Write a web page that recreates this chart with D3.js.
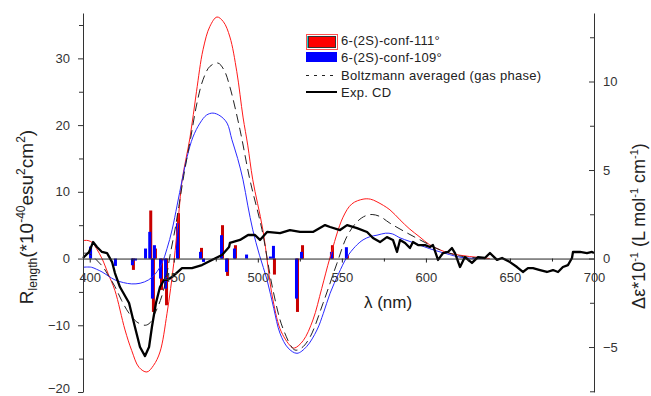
<!DOCTYPE html>
<html>
<head>
<meta charset="utf-8">
<script src="https://cdn.jsdelivr.net/npm/d3@7"></script>
<style>
  body { margin: 0; background: #fff; }
  svg { display: block; font-family: "Liberation Sans", Arial, sans-serif; }
</style>
</head>
<body>
<div id="chart"></div>
<script>
// calculated spectra (left axis, R length)
const redNm = [396, 399, 401.5, 404, 407.3, 411, 415, 421, 425, 429.3, 434, 438, 441.8, 446, 450, 453, 455, 459.7, 463.5, 467.4, 471.5, 475.7, 479.5, 483.4, 487.5, 491.2, 494, 497, 503, 509, 514, 520.3, 522, 527, 532.8, 538, 543, 550.7, 556, 562.6, 567, 570.9, 578.6, 584.6, 590, 596.5, 602, 608.4, 614, 620.3, 626, 632.2, 638];
const redR = [2.7, 2.7, 2.4, 1.5, 0.0, -2.3, -4.8, -10.7, -13.8, -16.3, -17.0, -16.0, -14.0, -8.2, -0.7, 6.8, 11.8, 18.2, 25.0, 31.3, 34.8, 36.2, 35.5, 33.2, 28.0, 21.2, 17.0, 11.8, 4.3, -6.2, -11.0, -13.3, -13.4, -12.3, -9.2, -4.5, 0.2, 6.2, 8.2, 8.9, 8.9, 8.5, 7.3, 5.8, 4.5, 3.2, 2.1, 1.3, 0.8, 0.5, 0.3, 0.15, 0.0];

const blueNm = [396, 401, 404, 407.3, 411, 415, 420, 425, 430, 435, 439, 443, 446, 449, 452, 455, 458, 461.4, 465.6, 469.5, 473.3, 477.5, 481.7, 484.6, 488, 491.2, 494, 497, 501, 505.5, 509.5, 513.2, 518, 523.3, 529, 535.2, 539, 543, 548, 553, 558, 562.6, 567, 570.9, 576, 580, 584.6, 590, 596.5, 602, 608.4, 614, 620.3, 627, 634];
const blueR = [-1.3, -1.3, -1.6, -2.0, -2.6, -3.2, -3.6, -3.8, -3.7, -3.2, -2.3, -0.7, 1.5, 4.3, 8.0, 11.8, 15.3, 18.2, 20.3, 21.5, 21.8, 21.4, 20.3, 17.8, 15.0, 11.8, 8.0, 4.3, 0.5, -3.2, -7.5, -11.2, -13.4, -14.2, -13.2, -10.7, -8.2, -5.2, -2.3, 0.2, 1.8, 2.8, 3.3, 3.5, 3.8, 3.7, 3.1, 2.6, 2.0, 1.5, 1.0, 0.6, 0.2, 0.05, 0];

const boltzNm = [396, 400, 404, 408, 411, 415, 419, 423.4, 428, 433, 436, 438.8, 442, 444.8, 447.8, 450.7, 453, 456, 460, 463.8, 467.4, 471.5, 476.3, 480, 483.4, 489.4, 495.3, 502.5, 509, 515, 522, 526, 531, 538.8, 547.1, 553, 559, 564, 568, 572.7, 578.6, 587.6, 596.5, 608.4, 620, 630, 636];
const boltzR = [0.8, 0.7, -0.2, -1.3, -2.5, -4.2, -6.3, -8.2, -9.5, -10.0, -9.6, -8.2, -6.3, -3.8, 0.5, 4.3, 7.8, 12.5, 18.0, 23.3, 26.8, 28.8, 29.3, 28.2, 25.7, 19.3, 11.8, 4.3, -4.7, -10.5, -13.7, -13.4, -11.8, -6.7, -0.7, 3.3, 5.5, 6.4, 6.6, 6.3, 5.3, 4.0, 2.8, 1.3, 0.4, 0.1, 0];

// rotatory strength sticks (left axis)
const stickNm = [400.8, 415.6, 425.7, 427.5, 433.5, 436.0, 437.6, 438.8, 442.4, 445.4, 452.5, 466.2, 468.0, 478.7, 481.7, 486.4, 493.6, 507.8, 509.6, 523.3, 526.3, 544.1, 553.0];
const stickRed = [0, 0, -1.7, 0, 0, 7.2, -8.0, 1.5, -4.7, -7.0, 6.8, 1.6, 0, 5.0, -2.6, 2.0, 0, 0, -2.4, -8.0, 2.0, 2.0, 0.5];
const stickBlue = [1.8, -1.1, -1.0, -0.3, 1.5, 4.0, -6.0, 2.0, -3.0, -4.5, 5.3, 1.0, -0.5, 3.5, -2.0, 1.5, 0.6, 0.3, 1.9, -6.0, 1.0, 1.0, 1.7];

// experimental CD (right axis)
const expNm = [396.0, 399.6, 402.0, 404.3, 407.3, 410.3, 413.3, 415.0, 418.0, 423.4, 426.9, 429.9, 432.9, 435.3, 437.0, 439.4, 441.8, 444.2, 446.0, 448.9, 454.9, 460.8, 466.8, 472.7, 478.7, 482.9, 483.4, 489.4, 494.2, 498.3, 501.3, 505.5, 513.2, 519.1, 525.1, 532.8, 540.0, 543.0, 548.9, 553.1, 559.0, 565.0, 568.5, 572.7, 576.8, 580.4, 582.8, 584.6, 587.6, 590.5, 592.3, 595.3, 599.5, 602.4, 604.2, 607.2, 610.2, 613.1, 615.5, 617.3, 620.3, 623.2, 627.4, 631.0, 635.1, 638.1, 642.3, 645.3, 650.0, 654.2, 657.7, 660.7, 663.7, 667.9, 672.0, 675.6, 678.6, 681.5, 684.5, 686.9, 687.5, 691.7, 695.8, 698.8, 700];
const expDe = [0.03, 0.37, 0.93, 0.65, 0.37, 0.31, -0.20, -0.82, -1.61, -2.51, -3.87, -5.0, -5.51, -5.0, -3.87, -2.51, -1.61, -1.21, -1.21, -1.05, -0.54, -0.54, -0.37, -0.08, 0.20, 0.65, 0.88, 1.05, 1.33, 1.33, 1.05, 1.50, 1.44, 1.61, 1.50, 1.50, 1.89, 1.78, 1.61, 1.89, 1.72, 1.50, 1.16, 0.93, 1.21, 1.05, 0.37, 1.05, 0.88, 0.59, 0.93, 0.76, 0.76, 0.65, 0.76, -0.08, 0.31, 0.37, 0.59, 0.31, -0.48, 0.08, -0.25, 0.08, 0.03, 0.31, -0.08, 0.03, -0.20, -0.48, -0.76, -0.54, -0.54, -0.65, -0.76, -0.65, -0.76, -0.48, -0.37, 0.03, 0.37, 0.37, 0.31, 0.37, 0.31];

const xMajor = [400, 450, 500, 550, 600, 650, 700];
const leftMajor = [-20, -10, 0, 10, 20, 30];
const rightMajor = [-5, 0, 5, 10];
const legendLabels = ["6-(2S)-conf-111°", "6-(2S)-conf-109°", "Boltzmann averaged (gas phase)", "Exp. CD"];

const W = 651, H = 396;
const svg = d3.select("#chart").append("svg")
  .attr("width", W)
  .attr("height", H);

const x = d3.scaleLinear().domain([396, 700]).range([83, 594]);
const yL = d3.scaleLinear().domain([-20, 36.8]).range([392, 13]);
const yR = d3.scaleLinear().domain([-7.54, 13.87]).range([392, 13]);

// sticks
const bw = 3;
svg.append("g").selectAll("rect")
  .data(stickNm.map((d, i) => ({ nm: d, v: stickRed[i] })).filter(d => d.v !== 0))
  .enter().append("rect")
  .attr("x", d => x(d.nm) - bw / 2 + 0.5)
  .attr("y", d => Math.min(yL(d.v), yL(0)))
  .attr("width", bw)
  .attr("height", d => Math.abs(yL(d.v) - yL(0)))
  .attr("fill", "#c80000");

svg.append("g").selectAll("rect")
  .data(stickNm.map((d, i) => ({ nm: d, v: stickBlue[i] })).filter(d => d.v !== 0))
  .enter().append("rect")
  .attr("x", d => x(d.nm) - bw / 2 - 0.5)
  .attr("y", d => Math.min(yL(d.v), yL(0)))
  .attr("width", bw)
  .attr("height", d => Math.abs(yL(d.v) - yL(0)))
  .attr("fill", "#0000ff");

// curves
const lineL = d3.line().curve(d3.curveCatmullRom).x(d => x(d[0])).y(d => yL(d[1]));
const zip = (a, b) => a.map((d, i) => [d, b[i]]);

svg.append("path").datum(zip(redNm, redR))
  .attr("d", lineL).attr("fill", "none").attr("stroke", "#ff1a1a").attr("stroke-width", 1);
svg.append("path").datum(zip(blueNm, blueR))
  .attr("d", lineL).attr("fill", "none").attr("stroke", "#2a2aff").attr("stroke-width", 1);
svg.append("path").datum(zip(boltzNm, boltzR))
  .attr("d", lineL).attr("fill", "none").attr("stroke", "#222").attr("stroke-width", 1)
  .attr("stroke-dasharray", "9,5");

const lineR = d3.line().x(d => x(d[0])).y(d => yR(d[1]));
svg.append("path").datum(zip(expNm, expDe))
  .attr("d", lineR).attr("fill", "none").attr("stroke", "#000").attr("stroke-width", 2.3)
  .attr("stroke-linejoin", "round");

// axes
const tickColor = "#333";
function styleAxis(g) {
  g.selectAll("text").attr("fill", tickColor).style("font-size", "13px");
  g.selectAll("line").attr("stroke", tickColor);
  g.select(".domain").attr("stroke", tickColor);
}

// x axis at zero
const xAxisG = svg.append("g").attr("transform", `translate(0,${yL(0)})`);
xAxisG.call(d3.axisBottom(x).tickValues(d3.range(425, 700, 50)).tickSize(3).tickFormat("").tickSizeOuter(0))
  .call(g => g.select(".domain").remove());
xAxisG.append("g").call(d3.axisBottom(x).tickValues(xMajor).tickSize(4).tickPadding(10).tickSizeOuter(0))
  .call(styleAxis)
  .call(g => g.select(".domain").attr("stroke", "#222"));
xAxisG.selectAll("line").attr("stroke", "#222");

// left axis
const leftG = svg.append("g").attr("transform", "translate(83,0)");
leftG.call(d3.axisLeft(yL).tickValues(d3.range(-15, 36, 10)).tickSize(4).tickFormat("").tickSizeOuter(0))
  .call(g => g.select(".domain").remove());
leftG.append("g").call(d3.axisLeft(yL).tickValues(leftMajor).tickSize(5).tickPadding(8).tickSizeOuter(0))
  .call(styleAxis)
  .call(g => g.selectAll(".tick").filter(d => d === -20).select("text").attr("dy", "0.05em"));
leftG.selectAll("line").attr("stroke", tickColor);

// right axis (ticks inward)
const rightG = svg.append("g").attr("transform", "translate(594,0)");
rightG.call(d3.axisRight(yR).tickValues([-7.5, -2.5, 2.5, 7.5, 12.5]).tickSize(-4).tickFormat("").tickSizeOuter(0))
  .call(g => g.select(".domain").remove());
rightG.append("g").call(d3.axisRight(yR).tickValues(rightMajor).tickSizeInner(-5).tickSizeOuter(0).tickPadding(9))
  .call(styleAxis);
rightG.selectAll("line").attr("stroke", tickColor);

// axis titles
const lt = svg.append("text")
  .attr("transform", "translate(33,217) rotate(-90)")
  .attr("text-anchor", "middle")
  .attr("fill", "#222")
  .style("font-size", "19px");
lt.append("tspan").text("R");
lt.append("tspan").attr("dy", 4).style("font-size", "12px").text("length");
lt.append("tspan").attr("dy", -4).text("(*10");
lt.append("tspan").attr("dy", -8).style("font-size", "12px").text("-40");
lt.append("tspan").attr("dy", 8).text("esu");
lt.append("tspan").attr("dy", -8).style("font-size", "12px").text("2");
lt.append("tspan").attr("dy", 8).text("cm");
lt.append("tspan").attr("dy", -8).style("font-size", "12px").text("2");
lt.append("tspan").attr("dy", 8).text(")");

const rt = svg.append("text")
  .attr("transform", "translate(645,226) rotate(-90)")
  .attr("text-anchor", "middle")
  .attr("fill", "#222")
  .style("font-size", "18px");
rt.append("tspan").text("Δε*10");
rt.append("tspan").attr("dy", -7).style("font-size", "11px").text("-1");
rt.append("tspan").attr("dy", 7).text(" (L mol");
rt.append("tspan").attr("dy", -7).style("font-size", "11px").text("-1");
rt.append("tspan").attr("dy", 7).text(" cm");
rt.append("tspan").attr("dy", -7).style("font-size", "11px").text("-1");
rt.append("tspan").attr("dy", 7).text(")");

svg.append("text")
  .attr("x", 388).attr("y", 308)
  .attr("text-anchor", "middle")
  .attr("fill", "#222")
  .style("font-size", "17px")
  .text("λ (nm)");

// legend
const lg = svg.append("g");
lg.append("rect").attr("x", 306.5).attr("y", 34.5).attr("width", 31).attr("height", 15)
  .attr("fill", "none").attr("stroke", "#ff5050");
lg.append("rect").attr("x", 308.5).attr("y", 36.5).attr("width", 27).attr("height", 11)
  .attr("fill", "#ff0000").attr("stroke", "#333");
lg.append("line").attr("x1", 307.5).attr("x2", 307.5).attr("y1", 36).attr("y2", 48)
  .attr("stroke", "#22cccc");
lg.append("rect").attr("x", 306).attr("y", 52).attr("width", 31).attr("height", 10)
  .attr("fill", "#0000ff");
lg.append("line").attr("x1", 306).attr("x2", 335).attr("y1", 75.5).attr("y2", 75.5)
  .attr("stroke", "#222").attr("stroke-dasharray", "3,5");
lg.append("line").attr("x1", 306).attr("x2", 337).attr("y1", 92).attr("y2", 92)
  .attr("stroke", "#000").attr("stroke-width", 2);
lg.selectAll("text.leg")
  .data(legendLabels)
  .enter().append("text")
  .attr("class", "leg")
  .attr("x", 341)
  .attr("y", (d, i) => [40, 57, 75.5, 92][i] + 4.5)
  .attr("fill", "#222")
  .style("font-size", "13px")
  .style("letter-spacing", "0.3px")
  .text(d => d);
</script>
</body>
</html>
